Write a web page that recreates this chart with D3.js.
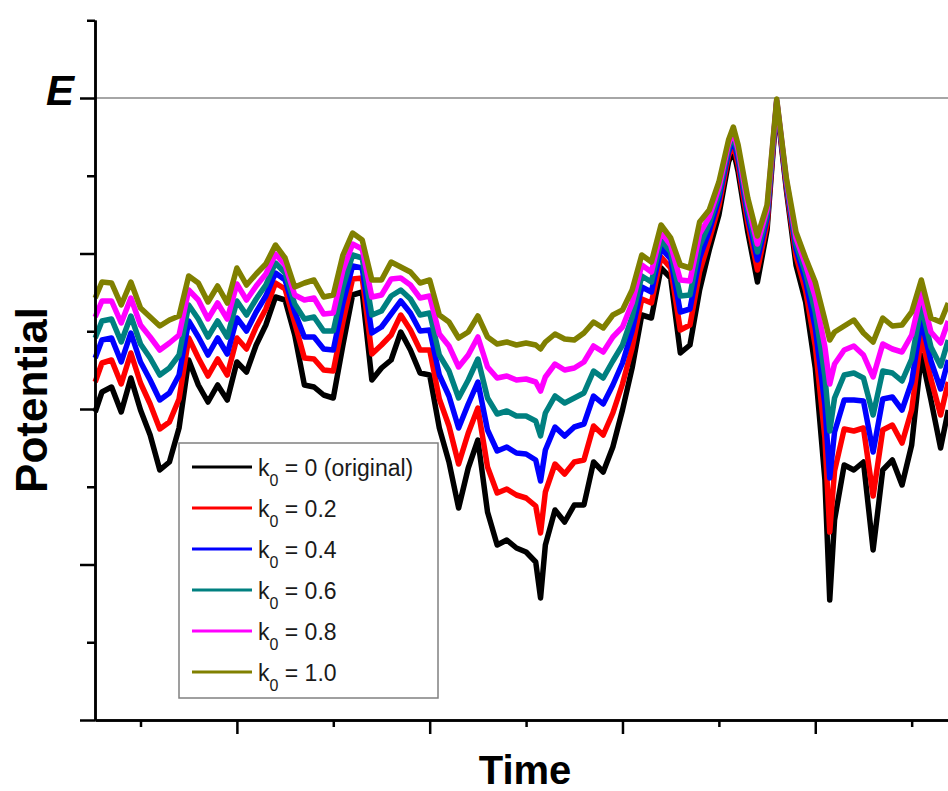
<!DOCTYPE html>
<html>
<head>
<meta charset="utf-8">
<script src="https://cdn.jsdelivr.net/npm/d3@7"></script>
<style>
  body { margin: 0; background: #fff; }
  svg { display: block; }
</style>
</head>
<body>
<div id="chart"></div>
<script>
/* Sample times (one minor tick = 1 unit) */
var time = [0.53, 0.6, 0.7, 0.8, 0.9, 1.0, 1.1, 1.2, 1.3, 1.4,
            1.5, 1.6, 1.7, 1.8, 1.9, 2.0, 2.1, 2.2, 2.3, 2.4,
            2.5, 2.6, 2.7, 2.8, 2.9, 3.0, 3.1, 3.2, 3.3, 3.4,
            3.5, 3.6, 3.7, 3.8, 3.9, 4.0, 4.1, 4.2, 4.3, 4.4,
            4.5, 4.6, 4.7, 4.8, 4.9, 5.0, 5.1, 5.15, 5.2, 5.3,
            5.4, 5.5, 5.6, 5.7, 5.8, 5.9, 6.0, 6.1, 6.2, 6.3,
            6.4, 6.5, 6.6, 6.7, 6.8, 6.9, 7.0, 7.1, 7.15, 7.2,
            7.3, 7.4, 7.5, 7.6, 7.7, 7.8, 7.9, 8.0, 8.1, 8.15,
            8.2, 8.3, 8.4, 8.5, 8.6, 8.7, 8.8, 8.9, 9.0, 9.1,
            9.2, 9.3, 9.38];

/* Potential for each k0 (arbitrary units, E = 622) */
var k00 = [308, 328, 333, 308, 342, 310, 285, 250, 258, 292,
           360, 335, 318, 335, 320, 358, 348, 375, 395, 423,
           420, 385, 335, 333, 325, 322, 375, 425, 428, 340,
           352, 360, 388, 370, 347, 345, 292, 258, 212, 252,
           280, 208, 175, 180, 172, 168, 158, 122, 175, 210,
           198, 215, 215, 258, 248, 273, 310, 352, 405, 402,
           452, 442, 367, 375, 430, 470, 505, 558, 570, 548,
           488, 438, 490, 616, 530, 455, 418, 352, 240, 120,
           200, 255, 250, 258, 170, 250, 260, 235, 275, 365,
           320, 272, 310];
var k02 = [338, 357, 360, 336, 367, 337, 316, 291, 298, 321,
           382, 362, 344, 361, 345, 382, 371, 393, 411, 437,
           431, 397, 362, 361, 350, 349, 398, 441, 442, 366,
           375, 385, 405, 390, 370, 370, 321, 294, 256, 287,
           312, 253, 227, 231, 225, 222, 214, 187, 228, 256,
           246, 258, 260, 294, 285, 307, 336, 372, 421, 417,
           463, 452, 390, 395, 448, 480, 514, 564, 576, 555,
           497, 450, 496, 617, 533, 464, 429, 374, 282, 188,
           249, 291, 289, 292, 224, 290, 295, 277, 310, 384,
           341, 305, 338];
var k04 = [362, 380, 382, 358, 387, 358, 340, 320, 327, 345,
           399, 383, 365, 382, 366, 402, 389, 408, 424, 447,
           440, 408, 383, 383, 371, 370, 417, 454, 452, 387,
           393, 406, 419, 407, 389, 390, 345, 324, 292, 316,
           338, 290, 269, 273, 267, 266, 260, 239, 270, 293,
           284, 293, 296, 324, 316, 335, 357, 389, 433, 428,
           472, 461, 408, 411, 462, 489, 521, 568, 581, 561,
           504, 460, 502, 618, 536, 471, 439, 392, 315, 242,
           288, 320, 320, 319, 268, 321, 323, 310, 338, 400,
           359, 331, 360];
var k06 = [382, 399, 401, 378, 404, 376, 362, 345, 352, 365,
           415, 401, 383, 399, 383, 419, 405, 421, 435, 457,
           447, 416, 401, 403, 389, 389, 433, 465, 462, 405,
           409, 424, 430, 421, 405, 407, 365, 349, 322, 340,
           361, 322, 306, 309, 304, 304, 299, 284, 307, 324,
           317, 322, 327, 349, 342, 359, 375, 403, 444, 438,
           480, 468, 424, 425, 474, 496, 526, 572, 585, 566,
           510, 468, 506, 619, 538, 476, 447, 408, 344, 289,
           322, 345, 347, 342, 305, 349, 347, 339, 361, 414,
           373, 354, 380];
var k08 = [403, 419, 419, 397, 422, 395, 383, 370, 377, 385,
           430, 420, 401, 417, 401, 436, 420, 434, 446, 466,
           455, 425, 420, 422, 406, 407, 450, 476, 471, 423,
           425, 441, 442, 435, 422, 424, 386, 374, 353, 365,
           383, 353, 342, 344, 340, 341, 338, 329, 343, 356,
           350, 352, 358, 374, 368, 383, 393, 417, 455, 448,
           488, 475, 440, 439, 486, 503, 532, 576, 589, 570,
           516, 476, 511, 620, 540, 482, 455, 423, 373, 336,
           356, 370, 374, 365, 343, 376, 371, 368, 385, 427,
           388, 377, 399];
var k10 = [422, 438, 437, 415, 438, 412, 403, 394, 400, 404,
           444, 437, 418, 434, 417, 452, 435, 446, 456, 475,
           462, 433, 437, 440, 423, 425, 465, 487, 480, 440,
           440, 458, 453, 448, 437, 440, 405, 398, 382, 388,
           404, 383, 376, 378, 375, 377, 375, 371, 378, 386,
           381, 380, 387, 398, 392, 405, 410, 430, 465, 458,
           495, 482, 455, 452, 498, 510, 538, 580, 593, 575,
           522, 484, 515, 621, 542, 488, 462, 438, 400, 380,
           388, 394, 400, 387, 378, 402, 394, 395, 408, 440,
           402, 398, 417];

var E = 622;
var seriesNames = ['0 (original)', '0.2', '0.4', '0.6', '0.8', '1.0'];
var seriesColors = ['#000000', '#ff0000', '#0000ff', '#008080', '#ff00ff', '#808000'];
var seriesValues = [k00, k02, k04, k06, k08, k10];

var xMajor = [2, 4, 6, 8];
var xMinor = [1, 3, 5, 7, 9];
var yMajor = [0, E / 4, E / 2, 3 * E / 4, E];
var yMinor = [E / 8, 3 * E / 8, 5 * E / 8, 7 * E / 8, 9 * E / 8];

var width = 948, height = 791;
var font = '"Liberation Sans", Arial, sans-serif';

var svg = d3.select('#chart')
  .append('svg')
    .attr('width', width)
    .attr('height', height);

var x = d3.scaleLinear().domain([0.528, 9.38]).range([95, 948.3]);
var y = d3.scaleLinear().domain([0, 700]).range([720, 20]);

// E reference line
svg.append('line')
  .attr('x1', x(0.528)).attr('x2', width)
  .attr('y1', y(E)).attr('y2', y(E))
  .attr('stroke', '#a6a6a6')
  .attr('stroke-width', 2);

// Curves, k0 = 0 underneath, k0 = 1.0 on top
var line = d3.line()
  .x(function(d, i) { return x(time[i]); })
  .y(function(d) { return y(d); });

svg.append('g').classed('curves', true)
  .selectAll('path')
  .data(seriesValues)
  .enter().append('path')
    .attr('d', function(d) { return line(d); })
    .attr('fill', 'none')
    .attr('stroke', function(d, i) { return seriesColors[i]; })
    .attr('stroke-width', 5.5)
    .attr('stroke-linejoin', 'round');

// Axes
function styleAxis(g) {
  g.selectAll('path, line').attr('stroke', '#000').attr('stroke-width', 2.5);
  g.selectAll('text').remove();
}

svg.append('g')
  .attr('transform', 'translate(' + x(0.528) + ',0)')
  .call(d3.axisLeft(y).tickValues(yMajor).tickSize(15).tickSizeOuter(0).tickFormat(''))
  .call(styleAxis);
svg.append('g')
  .attr('transform', 'translate(' + x(0.528) + ',0)')
  .call(d3.axisLeft(y).tickValues(yMinor).tickSize(8).tickSizeOuter(0).tickFormat(''))
  .call(styleAxis);

svg.append('g')
  .attr('transform', 'translate(0,' + y(0) + ')')
  .call(d3.axisBottom(x).tickValues(xMajor).tickSize(14).tickSizeOuter(0).tickFormat(''))
  .call(styleAxis);
svg.append('g')
  .attr('transform', 'translate(0,' + y(0) + ')')
  .call(d3.axisBottom(x).tickValues(xMinor).tickSize(7).tickSizeOuter(0).tickFormat(''))
  .call(styleAxis);

// E label
svg.append('text')
  .attr('x', 74).attr('y', 105)
  .attr('text-anchor', 'end')
  .attr('font-family', font)
  .attr('font-size', 42)
  .attr('font-weight', 'bold')
  .attr('font-style', 'italic')
  .text('E');

// Axis titles
svg.append('text')
  .attr('x', 525).attr('y', 784)
  .attr('text-anchor', 'middle')
  .attr('font-family', font)
  .attr('font-size', 40)
  .attr('font-weight', 'bold')
  .text('Time');

svg.append('text')
  .attr('transform', 'translate(47,400) rotate(-90)')
  .attr('text-anchor', 'middle')
  .attr('font-family', font)
  .attr('font-size', 44)
  .attr('font-weight', 'bold')
  .text('Potential');

// Legend
var legend = svg.append('g').classed('legend', true);
legend.append('rect')
  .attr('x', 179).attr('y', 443)
  .attr('width', 259).attr('height', 255)
  .attr('fill', '#fff')
  .attr('stroke', '#808080')
  .attr('stroke-width', 1.5);

var rows = legend.selectAll('g.row')
  .data(seriesNames)
  .enter().append('g')
    .classed('row', true)
    .attr('transform', function(d, i) { return 'translate(0,' + (467 + i * 41) + ')'; });

rows.append('line')
  .attr('x1', 192).attr('x2', 252)
  .attr('stroke', function(d, i) { return seriesColors[i]; })
  .attr('stroke-width', 3);

var label = rows.append('text')
  .attr('x', 258).attr('y', 9)
  .attr('font-family', font)
  .attr('font-size', 23)
  .attr('fill', '#1a1a1a');
label.append('tspan').text('k');
label.append('tspan').attr('font-size', 16).attr('dy', 10).text('0');
label.append('tspan').attr('dy', -10).text(function(d) { return ' = ' + d; });
</script>
</body>
</html>
